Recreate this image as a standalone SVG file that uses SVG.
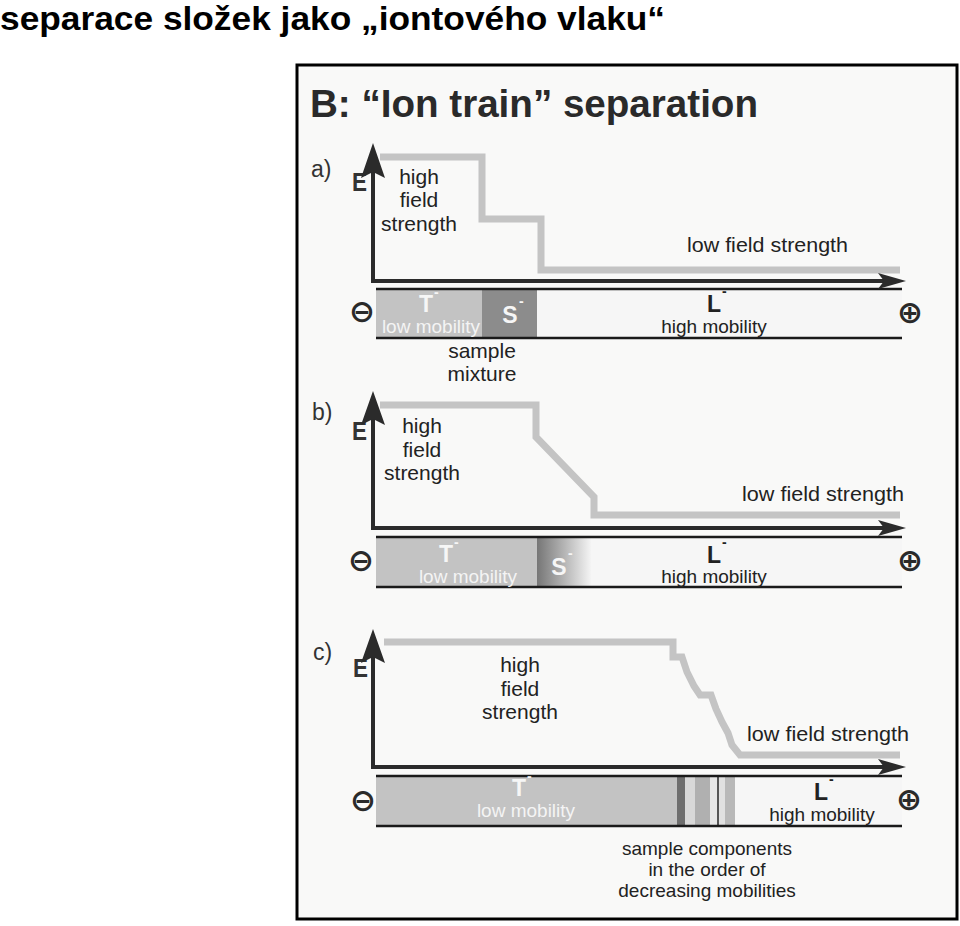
<svg xmlns="http://www.w3.org/2000/svg" width="960" height="926" viewBox="0 0 960 926">
<style>
  text { font-family: "Liberation Sans", Arial, sans-serif; fill: #1e1e1e; }
  .head { font-size: 34px; font-weight: bold; fill: #000; }
  .title { font-size: 38px; font-weight: bold; fill: #2a2a2a; }
  .lbl { font-size: 23px; fill: #333; }
  .e { font-size: 26px; font-weight: bold; fill: #333; }
  .t21 { font-size: 21px; fill: #222; }
  .mid { text-anchor: middle; }
  .t19 { font-size: 19px; fill: #222; }
  .wht { font-size: 19px; fill: #f4f4f4; }
  .ion { font-size: 23px; font-weight: bold; }
  .ionw { fill: #f6f6f6; }
  .iond { fill: #222; }
  .sup { font-size: 14px; font-weight: bold; }
  .pm { font-family: "DejaVu Sans", sans-serif; font-size: 31px; font-weight: bold; fill: #2a2a2a; text-anchor: middle; }
  .axis { stroke: #2b2b2b; stroke-width: 4; fill: none; }
  .arr { fill: #2b2b2b; }
  .curve { stroke: #c4c4c4; stroke-width: 7; fill: none; stroke-linejoin: miter; }
  .rule { stroke: #1a1a1a; stroke-width: 2.5; }
  .tzone { fill: #c3c3c3; }
  .lzone { fill: #f6f6f6; }
</style>
<defs>
  <linearGradient id="sgrad" x1="0" y1="0" x2="1" y2="0">
    <stop offset="0" stop-color="#767676"/>
    <stop offset="0.5" stop-color="#b4b4b4"/>
    <stop offset="1" stop-color="#f4f4f4"/>
  </linearGradient>
</defs>

<rect x="0" y="0" width="960" height="926" fill="#ffffff"/>
<text class="head" x="0" y="30" textLength="665" lengthAdjust="spacingAndGlyphs">separace složek jako „iontového vlaku“</text>

<g id="frame">
  <rect x="297" y="65" width="660" height="854" fill="#f9f9f8" stroke="#000" stroke-width="3"/>
  <text class="title" x="310" y="117" textLength="448" lengthAdjust="spacingAndGlyphs">B: “Ion train” separation</text>
</g>

<!-- Panel a -->
<g id="panel-a">
  <text class="lbl" x="311" y="177">a)</text>
  <rect class="tzone" x="376" y="289" width="106" height="49"/>
  <rect x="482" y="289" width="55" height="49" fill="#8c8c8c"/>
  <rect class="lzone" x="537" y="289" width="365" height="49"/>
  <line class="rule" x1="376" y1="289" x2="902" y2="289"/>
  <line class="rule" x1="376" y1="338" x2="902" y2="338"/>
  <path class="curve" d="M380,157 H482 V219 H541 V270 H900"/>
  <text class="e" x="352" y="191" textLength="15" lengthAdjust="spacingAndGlyphs">E</text>
  <text class="t21 mid" x="419" y="184">high</text>
  <text class="t21 mid" x="419" y="207">field</text>
  <text class="t21 mid" x="419" y="231">strength</text>
  <text class="t21" x="687" y="252" textLength="161" lengthAdjust="spacingAndGlyphs">low field strength</text>
  <text class="pm" x="362" y="322">⊖</text>
  <text class="pm" x="910" y="323">⊕</text>
  <text class="ion ionw mid" x="426" y="312">T</text>
  <text class="sup ionw" x="434" y="297">-</text>
  <text class="wht mid" x="431" y="333">low mobility</text>
  <text class="ion ionw mid" x="510" y="323">S</text>
  <text class="sup ionw" x="519" y="306">-</text>
  <text class="ion iond mid" x="714" y="312">L</text>
  <text class="sup iond" x="722" y="296">-</text>
  <text class="t19 mid" x="714" y="333">high mobility</text>
  <text class="t21 mid" x="482" y="358">sample</text>
  <text class="t21 mid" x="482" y="381">mixture</text>
</g>

<!-- Panel b -->
<g id="panel-b">
  <text class="lbl" x="312" y="420">b)</text>
  <rect class="tzone" x="376" y="537" width="161" height="50"/>
  <rect x="537" y="537" width="54" height="50" fill="url(#sgrad)"/>
  <rect class="lzone" x="591" y="537" width="311" height="50"/>
  <line class="rule" x1="376" y1="537" x2="902" y2="537"/>
  <line class="rule" x1="376" y1="587" x2="902" y2="587"/>
  <path class="curve" d="M380,405 H536 V437 L594,497 V515 H900"/>
  <text class="e" x="352" y="440" textLength="15" lengthAdjust="spacingAndGlyphs">E</text>
  <text class="t21 mid" x="422" y="433">high</text>
  <text class="t21 mid" x="422" y="457">field</text>
  <text class="t21 mid" x="422" y="480">strength</text>
  <text class="t21" x="742" y="501" textLength="162" lengthAdjust="spacingAndGlyphs">low field strength</text>
  <text class="pm" x="361" y="571">⊖</text>
  <text class="pm" x="910" y="571">⊕</text>
  <text class="ion ionw mid" x="446" y="562">T</text>
  <text class="sup ionw" x="454" y="547">-</text>
  <text class="wht mid" x="468" y="583">low mobility</text>
  <text class="ion ionw mid" x="559" y="575">S</text>
  <text class="sup ionw" x="568" y="558">-</text>
  <text class="ion iond mid" x="714" y="563">L</text>
  <text class="sup iond" x="722" y="547">-</text>
  <text class="t19 mid" x="714" y="583">high mobility</text>
</g>

<!-- Panel c -->
<g id="panel-c">
  <text class="lbl" x="313" y="660">c)</text>
  <rect class="tzone" x="376" y="776" width="301" height="50"/>
  <rect x="677" y="776" width="8" height="50" fill="#6e6e6e"/>
  <rect x="685" y="776" width="10" height="50" fill="#d8d8d8"/>
  <rect x="695" y="776" width="15" height="50" fill="#b0b0b0"/>
  <rect x="710" y="776" width="7" height="50" fill="#e6e6e6"/>
  <rect x="717" y="776" width="2" height="50" fill="#555"/>
  <rect x="719" y="776" width="6" height="50" fill="#e0e0e0"/>
  <rect x="725" y="776" width="10" height="50" fill="#b8b8b8"/>
  <rect class="lzone" x="735" y="776" width="167" height="50"/>
  <line class="rule" x1="376" y1="776" x2="902" y2="776"/>
  <line class="rule" x1="376" y1="826" x2="902" y2="826"/>
  <path class="curve" d="M384,642 H673 V657 H682 L687,672 L694,686 L700,695 H711 L716,709 L722,722 L728,733 L732,745 L740,755 H900"/>
  <text class="e" x="353" y="677" textLength="15" lengthAdjust="spacingAndGlyphs">E</text>
  <text class="t21 mid" x="520" y="672">high</text>
  <text class="t21 mid" x="520" y="696">field</text>
  <text class="t21 mid" x="520" y="719">strength</text>
  <text class="t21" x="747" y="741" textLength="162" lengthAdjust="spacingAndGlyphs">low field strength</text>
  <text class="pm" x="363" y="811">⊖</text>
  <text class="pm" x="909" y="810">⊕</text>
  <text class="ion ionw mid" x="519" y="796">T</text>
  <text class="sup ionw" x="527" y="781">-</text>
  <text class="wht mid" x="526" y="817">low mobility</text>
  <text class="ion iond mid" x="821" y="800">L</text>
  <text class="sup iond" x="829" y="784">-</text>
  <text class="t19 mid" x="822" y="821">high mobility</text>
  <text class="t19 mid" x="707" y="855">sample components</text>
  <text class="t19 mid" x="707" y="876">in the order of</text>
  <text class="t19 mid" x="707" y="897">decreasing mobilities</text>
</g>

<!-- Axes (connectors) -->
<g id="connectors">
  <line class="axis" x1="373" y1="283" x2="373" y2="170"/>
  <polygon class="arr" points="373,143 385,178 373,172 361,178"/>
  <line class="axis" x1="371" y1="281" x2="884" y2="281"/>
  <polygon class="arr" points="906,281 878,273 884,281 878,289"/>

  <line class="axis" x1="373" y1="530" x2="373" y2="418"/>
  <polygon class="arr" points="373,391 385,425 373,419 361,425"/>
  <line class="axis" x1="371" y1="528" x2="884" y2="528"/>
  <polygon class="arr" points="906,528 878,520 884,528 878,536"/>

  <line class="axis" x1="373" y1="769" x2="373" y2="656"/>
  <polygon class="arr" points="373,629 385,663 373,657 361,663"/>
  <line class="axis" x1="371" y1="767" x2="884" y2="767"/>
  <polygon class="arr" points="906,767 878,759 884,767 878,775"/>
</g>
</svg>
